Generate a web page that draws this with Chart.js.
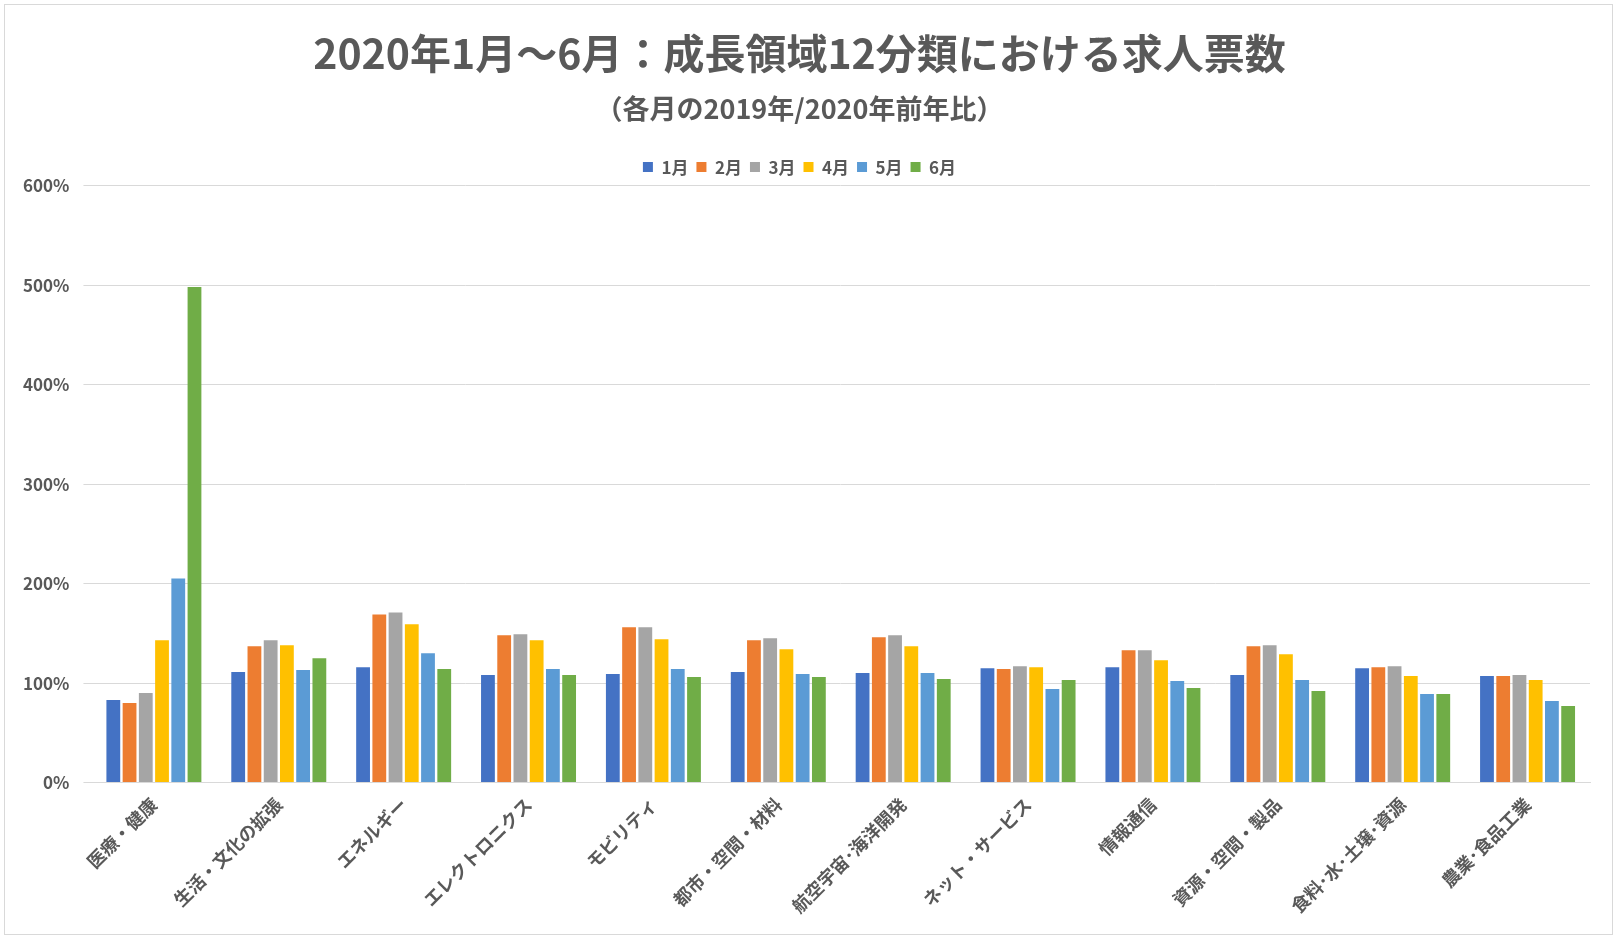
<!DOCTYPE html>
<html><head><meta charset="utf-8">
<script src="https://cdn.jsdelivr.net/npm/chart.js@4"></script>
<style>html,body{margin:0;background:#fff}#w{position:absolute;left:4px;top:4px;width:1609px;height:931px;border:1px solid #d9d9d9;box-sizing:border-box}</style>
</head><body><div id="w"><canvas id="c"></canvas></div>
<script>
const categories=["医療・健康","生活・文化の拡張","エネルギー","エレクトロニクス","モビリティ","都市・空間・材料","航空宇宙･海洋開発","ネット・サービス","情報通信","資源・空間・製品","食料･水･土壌･資源","農業･食品工業"];
const seriesNames=["1月","2月","3月","4月","5月","6月"];
const m1=[83,111,116,108,109,111,110,115,116,108,115,107];
const m2=[80,137,169,148,156,143,146,114,133,137,116,107];
const m3=[90,143,171,149,156,145,148,117,133,138,117,108];
const m4=[143,138,159,143,144,134,137,116,123,129,107,103];
const m5=[205,113,130,114,114,109,110,94,102,103,89,82];
const m6=[498,125,114,108,106,106,104,103,95,92,89,77];
const colors=["#4472C4","#ED7D31","#A5A5A5","#FFC000","#5B9BD5","#70AD47"];
const F="'Noto Sans CJK JP','Noto Sans',sans-serif";
new Chart(document.getElementById('c'),{type:'bar',
data:{labels:categories,datasets:[m1,m2,m3,m4,m5,m6].map((d,i)=>({label:seriesNames[i],data:d,backgroundColor:colors[i],categoryPercentage:0.78,barPercentage:0.85}))},
options:{responsive:true,maintainAspectRatio:false,animation:false,
layout:{padding:{left:4,right:22,top:24,bottom:14}},
plugins:{title:{display:true,text:"2020年1月～6月：成長領域12分類における求人票数",color:'#595959',font:{family:F,size:41,weight:'bold'},padding:{bottom:8}},
subtitle:{display:true,text:"（各月の2019年/2020年前年比）",color:'#595959',font:{family:F,size:27,weight:'bold'},padding:{top:6,bottom:26}},
legend:{labels:{boxWidth:10,boxHeight:10,color:'#595959',font:{family:F,size:17,weight:'bold'},padding:8},padding:20},tooltip:{enabled:false}},
scales:{x:{grid:{display:false},border:{color:'#d9d9d9'},ticks:{color:'#595959',maxRotation:45,minRotation:45,font:{family:F,size:18,weight:'bold'}}},
y:{min:0,max:600,ticks:{stepSize:100,callback:v=>v+'%',color:'#595959',padding:14,font:{family:F,size:17,weight:'bold'}},grid:{color:'#d9d9d9'},border:{display:false}}}}});
</script></body></html>
